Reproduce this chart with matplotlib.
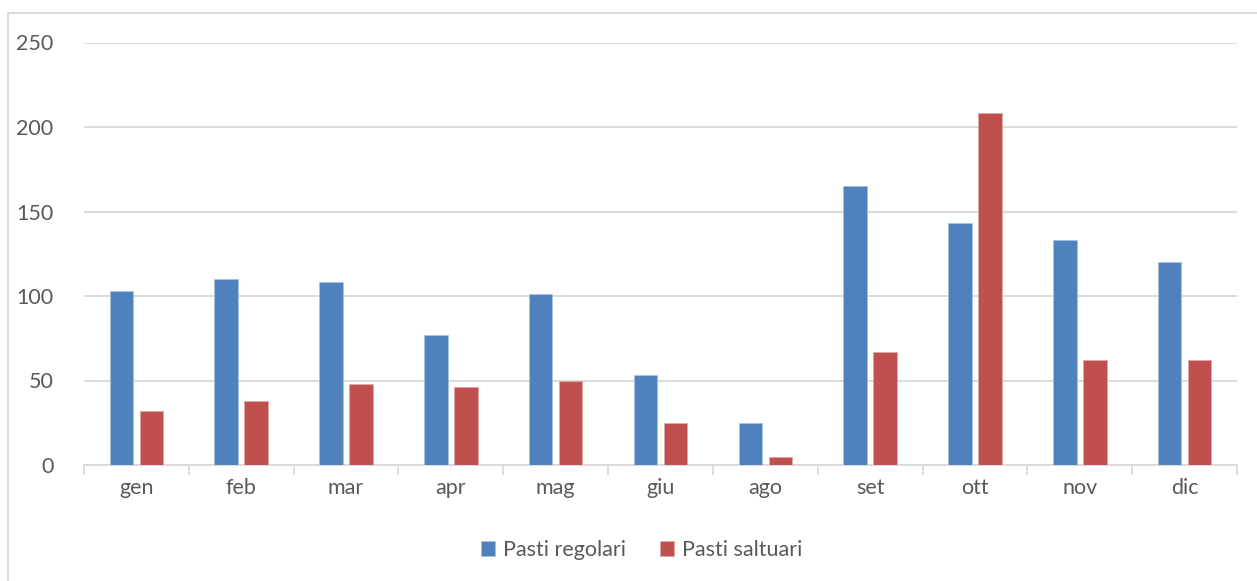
import matplotlib.pyplot as plt
import numpy as np
from matplotlib.patches import Rectangle

months = ["gen", "feb", "mar", "apr", "mag", "giu", "ago", "set", "ott", "nov", "dic"]
regolari = [103, 110, 108, 77, 101, 53, 25, 165, 143, 133, 120]
saltuari = [32, 38, 48, 46, 50, 25, 5, 67, 208, 62, 62]
series_names = ["Pasti regolari", "Pasti saltuari"]
yticks = [0, 50, 100, 150, 200, 250]

blue = "#4F81BD"
red = "#C0504D"
grid_c = "#D9D9D9"
text_c = "#595959"

plt.rcParams['font.family'] = ['Lato', 'DejaVu Sans']
fs = 15.5

fig = plt.figure(figsize=(12.57, 5.81), dpi=100)
ax = fig.add_axes([84/1257, 1-465/581, (1237-84)/1257, (465-42.5)/581])

x = np.arange(len(months))
w = 0.225
ax.bar(x - 0.143, regolari, w, color=blue, edgecolor="#A9C1E0", linewidth=0.6, label=series_names[0], zorder=3)
ax.bar(x + 0.143, saltuari, w, color=red, edgecolor="#E0A9A8", linewidth=0.6, label=series_names[1], zorder=3)

ax.set_xlim(-0.5, len(months) - 0.5)
ax.set_ylim(0, 250)
ax.set_yticks(yticks)
ax.yaxis.grid(True, color=grid_c, linewidth=1.3, zorder=0)
ax.set_axisbelow(True)
for s in ["top", "right", "left"]:
    ax.spines[s].set_visible(False)
ax.spines["bottom"].set_color(grid_c)
ax.spines["bottom"].set_linewidth(1.3)

ax.set_xticks(x)
ax.set_xticklabels(months, fontsize=fs, color=text_c)
ax.tick_params(axis="x", length=0, pad=9)
ax.set_xticks(np.arange(len(months) + 1) - 0.5, minor=True)
ax.tick_params(axis="x", which="minor", length=7, width=1.3, color=grid_c)
ax.tick_params(axis="y", length=0, pad=22, labelsize=fs, labelcolor=text_c)

leg = fig.legend(loc="center", bbox_to_anchor=(641.5/1257, 1-550/581), ncol=2, frameon=False,
                 fontsize=fs, handlelength=0.65, handleheight=0.65, handletextpad=0.35,
                 columnspacing=1.6, labelcolor=text_c)

fig.patches.append(Rectangle((8/1257, -0.2), 1.2, 1.2-13/581, transform=fig.transFigure,
                             fill=False, edgecolor=grid_c, linewidth=1.3))

fig.savefig("out.png", dpi=100)
